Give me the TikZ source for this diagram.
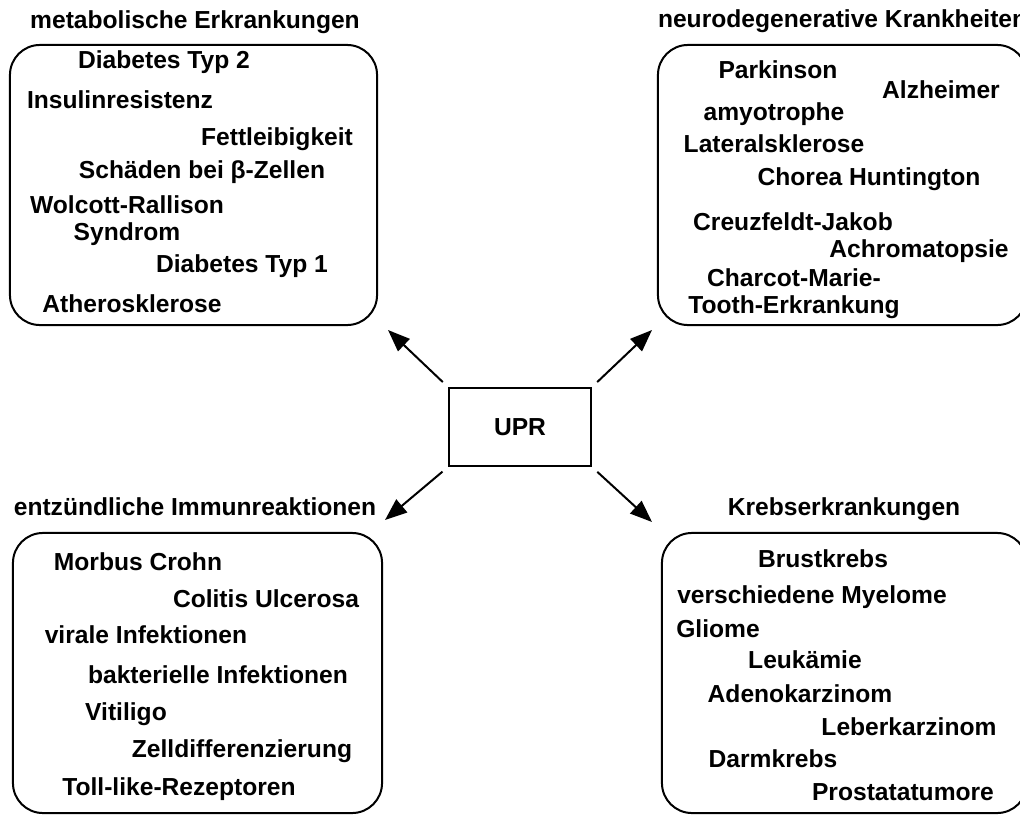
\documentclass[tikz,border=0pt]{standalone}
\usepackage{fontspec}
\setmainfont{Liberation Sans}
\usetikzlibrary{arrows.meta,positioning}

\begin{document}
\begin{tikzpicture}[x=0.025cm,y=-0.025cm,->,>={Triangle[length=0.55cm,width=0.42cm]},
		line width=0.05cm,
		group box/.style={rectangle,draw,rounded corners=0.75cm,inner sep=0pt,minimum height=7cm},
		main node/.style={rectangle,draw,inner sep=0pt,minimum width=3.55cm,minimum height=1.95cm,font=\bfseries\fontsize{17.5}{19}\selectfont},
		text node/.style={anchor=base,inner sep=0pt,align=center,font=\bfseries\fontsize{17.5}{19}\selectfont}]
		
		\useasboundingbox (0,0) rectangle (1020,816);
		
		\node[main node] (upr) at (520,427) {UPR};
		
		\node[group box,minimum width=9.175cm] (metab) at (193.5,185) {};
		\node[group box,minimum width=9.225cm] (neuro) at (842.5,185) {};
		\node[group box,minimum width=9.225cm] (immun) at (197.5,673) {};
		\node[group box,minimum width=9.125cm] (krebs) at (844.5,673) {};
		
		\node[text node] (metab title) at (195,28) {metabolische Erkrankungen};
		\node[text node,anchor=base west] (neuro title) at (657,27) {neurodegenerative Krankheiten};
		\node[text node] (immun title) at (195,515) {entzündliche Immunreaktionen};
		\node[text node] (krebs title) at (844,515) {Krebserkrankungen};
		
		% metabolische Erkrankungen
		\node[text node] at (164,68) {Diabetes Typ 2};
		\node[text node] at (120,108) {Insulinresistenz};
		\node[text node] at (277,145) {Fettleibigkeit};
		\node[text node] at (202,178) {Schäden bei β-Zellen};
		\node[text node] at (127,240) {Wolcott-Rallison\\Syndrom};
		\node[text node] at (242,272) {Diabetes Typ 1};
		\node[text node] at (132,312) {Atherosklerose};
		
		% neurodegenerative Krankheiten
		\node[text node] at (778,78) {Parkinson};
		\node[text node] at (941,98) {Alzheimer};
		\node[text node] at (774,152) {amyotrophe\\[0.13cm]Lateralsklerose};
		\node[text node] at (869,185) {Chorea Huntington};
		\node[text node] at (793,230) {Creuzfeldt-Jakob};
		\node[text node] at (919,257) {Achromatopsie};
		\node[text node] at (794,313) {Charcot-Marie-\\Tooth-Erkrankung};
		
		% entzuendliche Immunreaktionen
		\node[text node] at (138,570) {Morbus Crohn};
		\node[text node] at (266,607) {Colitis Ulcerosa};
		\node[text node] at (146,643) {virale Infektionen};
		\node[text node] at (218,683) {bakterielle Infektionen};
		\node[text node] at (126,720) {Vitiligo};
		\node[text node] at (242,757) {Zelldifferenzierung};
		\node[text node] at (179,795) {Toll-like-Rezeptoren};
		
		% Krebserkrankungen
		\node[text node] at (823,567) {Brustkrebs};
		\node[text node] at (812,603) {verschiedene Myelome};
		\node[text node] at (718,637) {Gliome};
		\node[text node] at (805,668) {Leukämie};
		\node[text node] at (800,702) {Adenokarzinom};
		\node[text node] at (909,735) {Leberkarzinom};
		\node[text node] at (773,767) {Darmkrebs};
		\node[text node] at (903,800) {Prostatatumore};
		
		\coordinate (metab tip) at (388,330);
		\coordinate (neuro tip) at (652,330);
		\coordinate (immun tip) at (385,520);
		\coordinate (krebs tip) at (652,522);
		
		\path[every edge/.append style={shorten <=0.18cm}]
		(upr.north west) edge (metab tip)
		(upr.north east) edge (neuro tip)
		(upr.south west) edge (immun tip)
		(upr.south east) edge (krebs tip);
		
		\end{tikzpicture}
\end{document}
